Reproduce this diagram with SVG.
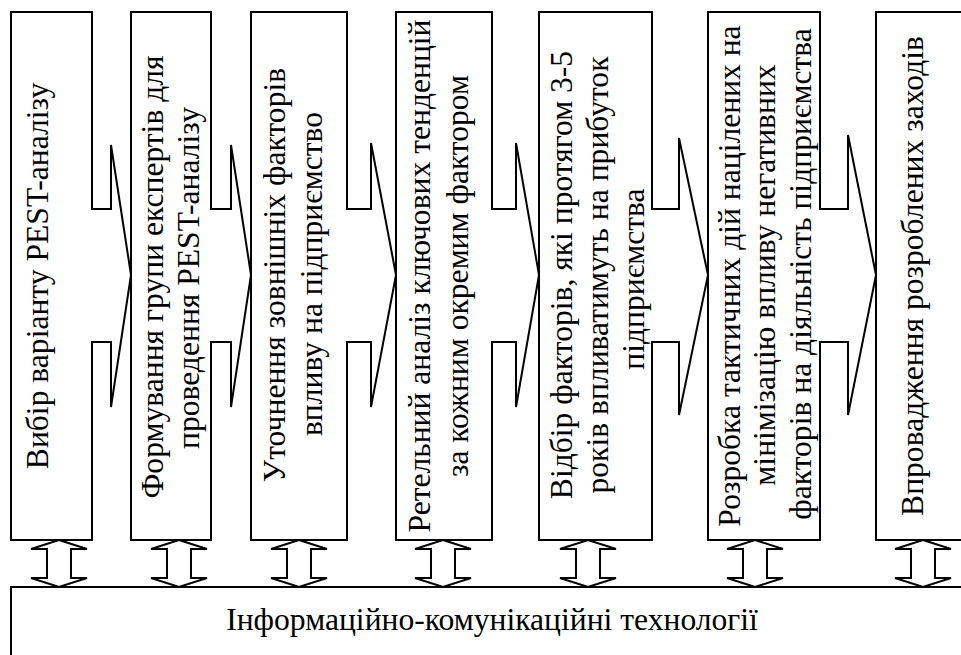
<svg xmlns="http://www.w3.org/2000/svg" width="961" height="655" viewBox="0 0 961 655">
<style>
.b{fill:#fff;stroke:#000;stroke-width:2}
.t{font-family:"Liberation Serif","Times New Roman",serif;font-size:31.6px;fill:#000;text-anchor:middle}
.a{fill:#fff;stroke:#000;stroke-width:2;stroke-linejoin:miter}
</style>
<defs>
<polygon id="da" class="a" points="0,540 28,549 12,549 12,578 28,578 0,587 -28,578 -12,578 -12,549 -28,549"/>
</defs>
<rect width="961" height="655" fill="#fff"/>
<g id="connectors">
<use href="#da" x="59"/>
<use href="#da" x="179"/>
<use href="#da" x="299"/>
<use href="#da" x="443"/>
<use href="#da" x="588"/>
<use href="#da" x="755"/>
<use href="#da" x="923"/>
</g>
<g id="n1">
<path class="b" d="M11,12 H92 V209 H111 V145 L131,275 L111,407 V342 H92 V540 H11 Z"/>
<text class="t" transform="translate(48,276) rotate(-90)">Вибір варіанту PEST-аналізу</text>
</g>
<g id="n2">
<path class="b" d="M131,12 H211 V209 H231 V145 L251,275 L231,407 V342 H211 V540 H131 Z"/>
<text class="t" transform="translate(163,277) rotate(-90)">Формування групи експертів для</text>
<text class="t" transform="translate(199,278) rotate(-90)">проведення PEST-аналізу</text>
</g>
<g id="n3">
<path class="b" d="M251,12 H347 V209 H371 V143 L396,275 L371,407 V342 H347 V540 H251 Z"/>
<text class="t" transform="translate(285,275) rotate(-90)">Уточнення зовнішніх факторів</text>
<text class="t" transform="translate(322,274) rotate(-90)">впливу на підприємство</text>
</g>
<g id="n4">
<path class="b" d="M396,12 H492 V209 H516 V143 L539,275 L516,407 V342 H492 V540 H396 Z"/>
<text class="t" transform="translate(430,276) rotate(-90)">Ретельний аналіз ключових тенденцій</text>
<text class="t" transform="translate(468,276) rotate(-90)">за кожним окремим фактором</text>
</g>
<g id="n5">
<path class="b" d="M539,12 H652 V209 H679 V138 L708,275 L679,415 V342 H652 V540 H539 Z"/>
<text class="t" transform="translate(572,275) rotate(-90)">Відбір факторів, які протягом 3-5</text>
<text class="t" transform="translate(608,275) rotate(-90)">років впливатимуть на прибуток</text>
<text class="t" transform="translate(644,279) rotate(-90)">підприємства</text>
</g>
<g id="n6">
<path class="b" d="M708,12 H820 V209 H848 V135 L876,275 L848,415 V342 H820 V540 H708 Z"/>
<text class="t" transform="translate(740,276) rotate(-90)">Розробка тактичних дій націлених на</text>
<text class="t" transform="translate(775,275) rotate(-90)">мінімізацію впливу негативних</text>
<text class="t" transform="translate(811,274) rotate(-90)">факторів на діяльність підприємства</text>
</g>
<g id="n7">
<rect class="b" x="876" y="12" width="100" height="528"/>
<text class="t" transform="translate(923,276) rotate(-90)">Впровадження розроблених заходів</text>
</g>
<g id="n8">
<rect class="b" x="11" y="587" width="970" height="100"/>
<text class="t" x="492" y="630">Інформаційно-комунікаційні технології</text>
</g>
</svg>
